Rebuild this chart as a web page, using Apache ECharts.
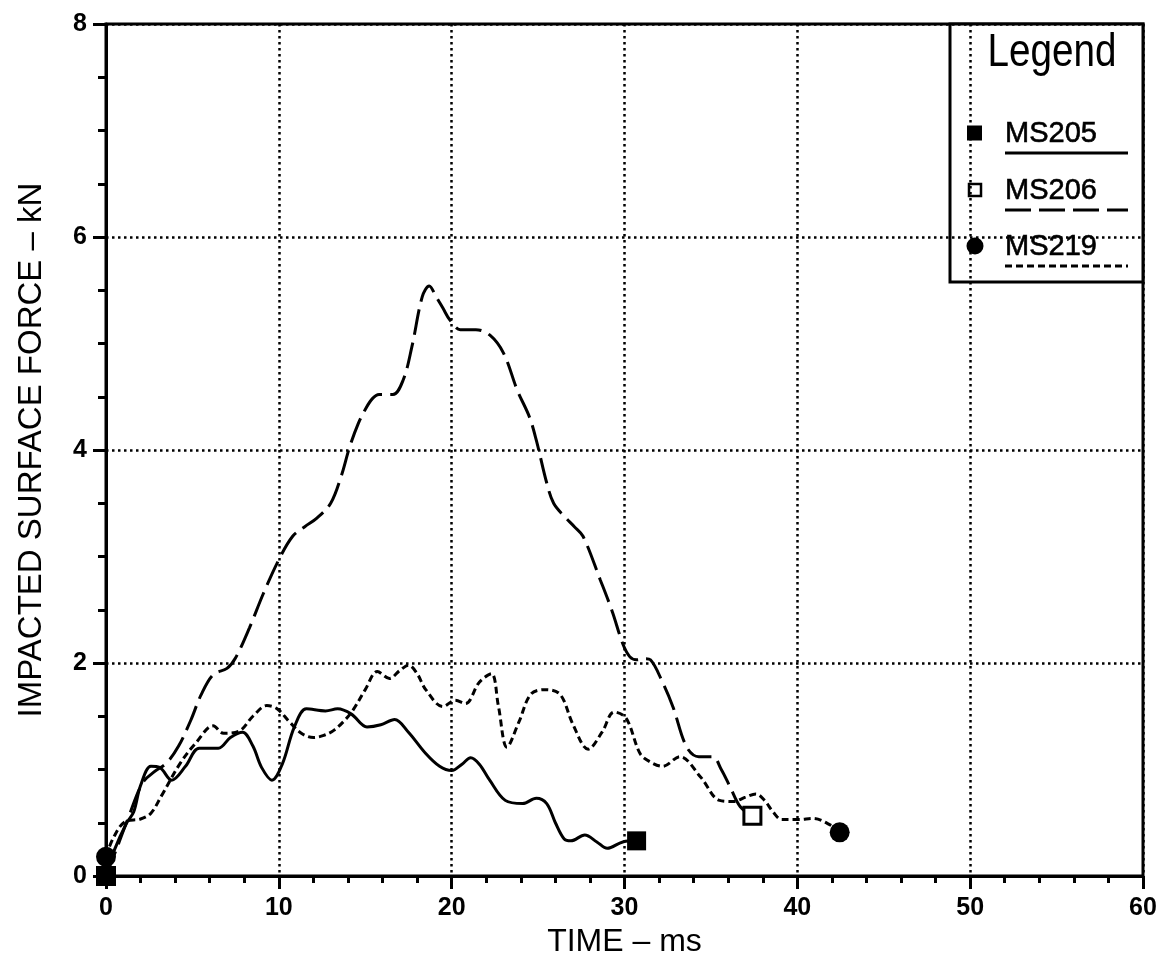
<!DOCTYPE html>
<html>
<head>
<meta charset="utf-8">
<title>Impacted surface force vs time</title>
<script src="https://cdn.jsdelivr.net/npm/echarts@6/dist/echarts.min.js"></script>
<style>
  html, body { margin: 0; padding: 0; background: #fff; }
  #chart { width: 1163px; height: 961px; }
</style>
</head>
<body>
<div id="chart"></div>
<script>
// Test names
const seriesNames = ['MS205', 'MS206', 'MS219'];

// MS205 — time (ms) and force (kN)
const timeMS205 = [0, 0.5, 1.2, 1.6, 2.0, 2.6, 3.1, 3.8, 4.6, 5.4, 6.5, 7.2, 7.9, 8.5, 9.0, 9.6, 10.2, 10.9, 11.6, 12.7, 13.4, 14.2, 15.1, 15.9, 16.7, 17.5, 18.5, 19.3, 20.0, 20.6, 21.1, 21.6, 22.2, 23.1, 24.1, 24.9, 25.5, 26.0, 26.5, 26.9, 27.7, 28.4, 29.0, 29.9, 30.7];
const forceMS205 = [0, 0.25, 0.5, 0.6, 0.85, 1.03, 1.02, 0.90, 1.03, 1.20, 1.20, 1.30, 1.35, 1.22, 1.02, 0.90, 1.05, 1.40, 1.57, 1.55, 1.57, 1.52, 1.40, 1.42, 1.47, 1.35, 1.15, 1.03, 0.99, 1.05, 1.11, 1.05, 0.90, 0.71, 0.68, 0.73, 0.68, 0.50, 0.35, 0.33, 0.385, 0.32, 0.26, 0.32, 0.33];

// MS206
const timeMS206 = [0, 0.6, 1.3, 2.1, 2.8, 3.5, 4.2, 4.9, 5.5, 6.2, 7.0, 7.5, 8.3, 9.1, 10.0, 10.8, 11.5, 12.2, 13.0, 13.6, 14.1, 14.6, 15.0, 15.4, 15.8, 16.6, 17.2, 17.7, 18.3, 18.7, 19.1, 19.5, 19.9, 20.5, 21.4, 22.2, 23.0, 23.8, 24.5, 24.9, 25.5, 25.9, 26.5, 27.1, 27.6, 28.6, 29.3, 29.9, 30.3, 30.7, 31.2, 31.5, 32.2, 32.8, 33.6, 34.3, 35.1, 35.6, 36.1, 36.7, 37.4];
const forceMS206 = [0, 0.25, 0.55, 0.87, 0.98, 1.06, 1.22, 1.46, 1.70, 1.89, 1.95, 2.05, 2.33, 2.65, 2.97, 3.19, 3.28, 3.36, 3.50, 3.75, 4.03, 4.25, 4.38, 4.48, 4.52, 4.52, 4.66, 4.97, 5.44, 5.54, 5.44, 5.33, 5.22, 5.13, 5.13, 5.08, 4.91, 4.56, 4.31, 4.09, 3.69, 3.50, 3.38, 3.28, 3.19, 2.78, 2.48, 2.18, 2.06, 2.03, 2.04, 2.03, 1.82, 1.59, 1.21, 1.12, 1.12, 1.00, 0.84, 0.65, 0.565];

// MS219
const timeMS219 = [0, 0.4, 1.1, 2.0, 2.6, 3.2, 4.3, 5.2, 6.2, 6.8, 7.7, 8.5, 9.3, 9.9, 10.6, 11.3, 12.0, 12.6, 13.2, 13.8, 14.3, 15.0, 15.7, 16.4, 17.0, 17.5, 18.0, 18.5, 19.5, 20.2, 20.8, 21.6, 22.3, 22.7, 23.2, 23.9, 24.6, 25.5, 26.3, 27.0, 27.9, 28.7, 29.4, 30.1, 30.9, 31.5, 32.2, 33.2, 34.4, 35.5, 36.3, 37.0, 37.6, 38.1, 38.6, 39.1, 40.1, 40.9, 41.9, 42.45];
const forceMS219 = [0.18, 0.35, 0.51, 0.535, 0.59, 0.75, 1.06, 1.25, 1.41, 1.34, 1.36, 1.50, 1.60, 1.57, 1.45, 1.34, 1.30, 1.32, 1.37, 1.46, 1.56, 1.75, 1.92, 1.855, 1.93, 1.98, 1.90, 1.75, 1.59, 1.65, 1.62, 1.82, 1.90, 1.60, 1.21, 1.45, 1.71, 1.75, 1.70, 1.43, 1.19, 1.35, 1.54, 1.48, 1.15, 1.07, 1.03, 1.12, 0.93, 0.71, 0.70, 0.74, 0.77, 0.71, 0.60, 0.53, 0.53, 0.54, 0.48, 0.41];

// Axis ranges and labels
const xTicks = [0, 10, 20, 30, 40, 50, 60];
const yTicks = [0, 2, 4, 6, 8];
const xTitle = 'TIME – ms';
const yTitle = 'IMPACTED SURFACE FORCE – kN';
const legendTitle = 'Legend';

const INK = '#000';
const FONT = '"Liberation Sans", Arial, sans-serif';

function pairs(ts, vs) { return ts.map((t, i) => [t, vs[i]]); }
function ends(ts, vs) { return [[ts[0], vs[0]], [ts[ts.length - 1], vs[vs.length - 1]]]; }

const lineStyles = [
  { width: 3, type: 'solid' },
  { width: 3, type: [26, 8] },
  { width: 3, type: [7, 4] }
];
const markerStyles = [
  { symbol: 'rect', size: 19, z: 6, item: { color: INK, opacity: 1 } },
  { symbol: 'rect', size: 17, z: 5, item: { color: '#fff', borderColor: INK, borderWidth: 3, opacity: 1 } },
  { symbol: 'circle', size: 20, z: 6, item: { color: INK, opacity: 1 } }
];
const curveData = [
  pairs(timeMS205, forceMS205),
  pairs(timeMS206, forceMS206),
  pairs(timeMS219, forceMS219)
];
const endData = [
  ends(timeMS205, forceMS205),
  ends(timeMS206, forceMS206),
  ends(timeMS219, forceMS219)
];

const series = [];
seriesNames.forEach((name, i) => {
  series.push({
    name, type: 'line', data: curveData[i], showSymbol: false, smooth: 0.35,
    lineStyle: Object.assign({ color: INK }, lineStyles[i]), z: 3, animation: false
  });
});
seriesNames.forEach((name, i) => {
  series.push({
    name: name + ' ends', type: 'scatter', data: endData[i],
    symbol: markerStyles[i].symbol, symbolSize: markerStyles[i].size,
    itemStyle: markerStyles[i].item, z: markerStyles[i].z, animation: false,
    emphasis: { disabled: true }
  });
});

// Legend panel in the top-right corner of the plot frame
const LX = 950, LY = 24, LW = 193, LH = 258;
const rowY = [133, 190, 246];
const legendChildren = [
  { type: 'rect', shape: { x: LX, y: LY, width: LW, height: LH },
    style: { fill: '#fff', stroke: INK, lineWidth: 3 } },
  { type: 'text', x: 1052, y: 53, scaleX: 0.84,
    style: { text: legendTitle, font: '46px ' + FONT, fill: INK, textAlign: 'center', textVerticalAlign: 'middle' } }
];
seriesNames.forEach((name, i) => {
  const y = rowY[i];
  if (markerStyles[i].symbol === 'circle') {
    legendChildren.push({ type: 'circle', shape: { cx: 975, cy: y, r: 8.5 }, style: { fill: INK } });
  } else if (i === 0) {
    legendChildren.push({ type: 'rect', shape: { x: 967, y: y - 7.5, width: 15, height: 15 }, style: { fill: INK } });
  } else {
    legendChildren.push({ type: 'rect', shape: { x: 969, y: y - 6, width: 12, height: 12 }, style: { fill: '#fff', stroke: INK, lineWidth: 2.5 } });
  }
  legendChildren.push({ type: 'text', x: 1005, y: y + 1,
    style: { text: name, font: '29px ' + FONT, fill: INK, textVerticalAlign: 'middle', stroke: INK, lineWidth: 0.6 } });
  const ls = lineStyles[i];
  legendChildren.push({ type: 'line', shape: { x1: 1005, y1: y + 20, x2: 1128, y2: y + 20 },
    style: { stroke: INK, lineWidth: 3, lineDash: ls.type === 'solid' ? null : ls.type } });
});

const chart = echarts.init(document.getElementById('chart'), null, { renderer: 'canvas' });
chart.setOption({
  backgroundColor: '#fff',
  animation: false,
  grid: {
    left: 106, right: 20, top: 24, bottom: 85, containLabel: false, outerBoundsMode: 'none',
    show: true, borderColor: INK, borderWidth: 3, backgroundColor: 'transparent'
  },
  xAxis: {
    type: 'value', min: xTicks[0], max: xTicks[xTicks.length - 1], interval: 10,
    name: xTitle, nameLocation: 'middle', nameGap: 50, nameMoveOverlap: false,
    nameTextStyle: { fontFamily: FONT, fontSize: 32, color: INK },
    axisLine: { show: true, lineStyle: { color: INK, width: 3 } },
    axisTick: { show: true, length: 13, lineStyle: { color: INK, width: 3 } },
    minorTick: { show: true, splitNumber: 5, length: 7, lineStyle: { color: INK, width: 3 } },
    axisLabel: { fontFamily: FONT, fontSize: 25, fontWeight: 'bold', color: INK, margin: 20 },
    splitLine: { show: true, lineStyle: { color: INK, width: 2.5, type: [2.5, 3.5] } }
  },
  yAxis: {
    type: 'value', min: yTicks[0], max: yTicks[yTicks.length - 1], interval: 2,
    name: yTitle, nameLocation: 'middle', nameGap: 58, nameMoveOverlap: false,
    nameTextStyle: { fontFamily: FONT, fontSize: 33, color: INK },
    axisLine: { show: true, lineStyle: { color: INK, width: 3 } },
    axisTick: { show: true, length: 13, lineStyle: { color: INK, width: 3 } },
    minorTick: { show: true, splitNumber: 4, length: 8, lineStyle: { color: INK, width: 3 } },
    axisLabel: { fontFamily: FONT, fontSize: 25, fontWeight: 'bold', color: INK, margin: 19 },
    splitLine: { show: true, lineStyle: { color: INK, width: 2.5, type: [2.5, 3.5] } }
  },
  series,
  graphic: [{ type: 'group', z: 100, children: legendChildren }]
});
</script>
</body>
</html>
